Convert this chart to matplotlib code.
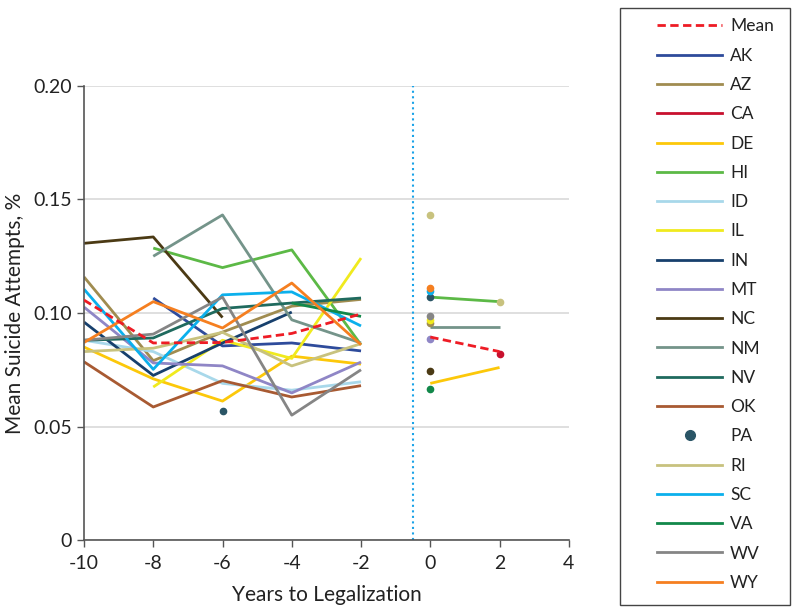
import numpy as np
import matplotlib
matplotlib.use('Agg')
import matplotlib.pyplot as plt
from matplotlib.lines import Line2D
from matplotlib.patches import Rectangle

plt.rcParams['font.family'] = ['Lato', 'DejaVu Sans']

nan = np.nan

# Years relative to legalization
pre_years = [-10, -8, -6, -4, -2]
post_years = [0, 2]

states = ['Mean', 'AK', 'AZ', 'CA', 'DE', 'HI', 'ID', 'IL', 'IN', 'MT',
          'NC', 'NM', 'NV', 'OK', 'PA', 'RI', 'SC', 'VA', 'WV', 'WY']

colors = ['#ee1c25', '#2e4b9b', '#a08c50', '#c8102e', '#fcc80a', '#5cb946',
          '#a8d8ea', '#f0ea1e', '#17406d', '#8f86c6', '#4b3a14', '#74948a',
          '#1f6a5e', '#a85a32', '#2a5566', '#c8c27e', '#0bb0ec', '#12884a',
          '#858585', '#f57f20']

# Mean suicide attempts, % (pre-legalization years)
pre_values = {
    'Mean': [0.1057, 0.0868, 0.0870, 0.0910, 0.0996],
    'AK':   [nan, 0.1066, 0.0855, 0.0868, 0.0833],
    'AZ':   [0.1159, 0.0790, 0.0916, 0.1030, 0.1060],
    'CA':   [nan, nan, nan, nan, nan],
    'DE':   [0.0850, 0.0710, 0.0612, 0.0810, 0.0775],
    'HI':   [nan, 0.1286, 0.1200, 0.1278, 0.0860],
    'ID':   [0.0880, 0.0830, 0.0690, 0.0660, 0.0697],
    'IL':   [nan, 0.0674, 0.0880, 0.0800, 0.1242],
    'IN':   [0.0960, 0.0725, 0.0868, 0.1004, nan],
    'MT':   [0.1026, 0.0780, 0.0767, 0.0648, 0.0784],
    'NC':   [0.1307, 0.1335, 0.0980, nan, nan],
    'NM':   [nan, 0.1250, 0.1432, 0.0970, 0.0868],
    'NV':   [0.0880, 0.0890, 0.1020, 0.1044, 0.1066],
    'OK':   [0.0785, 0.0586, 0.0702, 0.0630, 0.0680],
    'PA':   [nan, nan, 0.0568, nan, nan],
    'RI':   [0.0830, 0.0845, 0.0915, 0.0767, 0.0865],
    'SC':   [0.1105, 0.0752, 0.1080, 0.1093, 0.0943],
    'VA':   [nan, nan, nan, 0.1044, 0.0985],
    'WV':   [0.0880, 0.0907, 0.1070, 0.0550, 0.0750],
    'WY':   [0.0870, 0.1050, 0.0934, 0.1132, 0.0860],
}

# Post-legalization years
post_values = {
    'Mean': [0.0894, 0.0830],
    'AK':   [nan, nan],
    'AZ':   [0.0955, nan],
    'CA':   [nan, 0.0820],
    'DE':   [0.0690, 0.0760],
    'HI':   [0.1070, 0.1050],
    'ID':   [nan, nan],
    'IL':   [0.0970, nan],
    'IN':   [nan, nan],
    'MT':   [0.0885, nan],
    'NC':   [0.0745, nan],
    'NM':   [0.0940, 0.0940],
    'NV':   [nan, nan],
    'OK':   [nan, nan],
    'PA':   [0.1070, nan],
    'RI':   [0.1432, 0.1050],
    'SC':   [0.1097, nan],
    'VA':   [0.0665, nan],
    'WV':   [0.0987, nan],
    'WY':   [0.1110, nan],
}

# post values shown only as separate dots (not joined)
dots_only = ['RI', 'PA']

fig = plt.figure(figsize=(8, 6.12), dpi=100)
ax = fig.add_axes([0.105, 0.1176, 0.606, 0.7419])

ax.set_axisbelow(True)
ax.grid(axis='y', color='#d9d9d9', linewidth=1.2)
ax.axvline(-0.5, color='#1aa3e8', linestyle=':', linewidth=1.5, zorder=1)


def draw(years, vals, color, dashed, z, dots=False):
    vals = np.array(vals, dtype=float)
    ls = (0, (3, 1.6)) if dashed else '-'
    if not dots:
        ax.plot(years, vals, color=color, linestyle=ls, linewidth=2.0,
                solid_capstyle='butt', zorder=z)
    # isolated points get a dot
    for i, v in enumerate(vals):
        if np.isnan(v):
            continue
        left = i > 0 and not np.isnan(vals[i - 1])
        right = i < len(vals) - 1 and not np.isnan(vals[i + 1])
        if dots or (not left and not right):
            ax.plot(years[i], v, 'o', color=color, markersize=4.5, zorder=z + 1)


order = states[1:] + ['Mean']
for name in order:
    c = colors[states.index(name)]
    z = 5 if name == 'Mean' else 2
    draw(pre_years, pre_values[name], c, name == 'Mean', z)
    draw(post_years, post_values[name], c, name == 'Mean', z,
         dots=name in dots_only)

ax.set_xlim(-10, 4)
ax.set_ylim(0, 0.20)
ax.set_xticks(range(-10, 5, 2))
ax.set_xticklabels([str(t) for t in range(-10, 5, 2)])
ax.set_yticks([0, 0.05, 0.10, 0.15, 0.20])
ax.set_yticklabels(['0', '0.05', '0.10', '0.15', '0.20'])
ax.tick_params(labelsize=14, colors='#555555', labelcolor='#222222',
               length=5, width=1)
ax.tick_params(axis='x', pad=6)
for s in ['top', 'right']:
    ax.spines[s].set_visible(False)
for s in ['left', 'bottom']:
    ax.spines[s].set_color('#555555')
    ax.spines[s].set_linewidth(1.2)

ax.set_xlabel('Years to Legalization', fontsize=15, color='#222222',
              labelpad=9)
ax.set_ylabel('Mean Suicide Attempts, %', fontsize=15, color='#222222',
              labelpad=6)

handles = []
for name, c in zip(states, colors):
    if name == 'PA':
        handles.append(Line2D([], [], color=c, marker='o', linestyle='none',
                              markersize=7))
    elif name == 'Mean':
        handles.append(Line2D([], [], color=c, linestyle=(0, (3, 1.6)),
                              linewidth=2.0))
    else:
        handles.append(Line2D([], [], color=c, linewidth=2.0))

# legend frame drawn separately so it can be wider than the entries
fig.patches.append(Rectangle((620 / 800, 1 - 605 / 612), 170 / 800, 597 / 612,
                             transform=fig.transFigure, fill=False,
                             edgecolor='#444444', linewidth=1.0))

leg = fig.legend(handles, states, loc='upper left',
                 bbox_to_anchor=(657 / 800, 0.9698), fontsize=12.5,
                 handlelength=3.75, labelspacing=0.765, borderpad=0,
                 handletextpad=0.45, borderaxespad=0, frameon=False)
for t in leg.get_texts():
    t.set_color('#222222')

fig.savefig('out.png', dpi=100)
